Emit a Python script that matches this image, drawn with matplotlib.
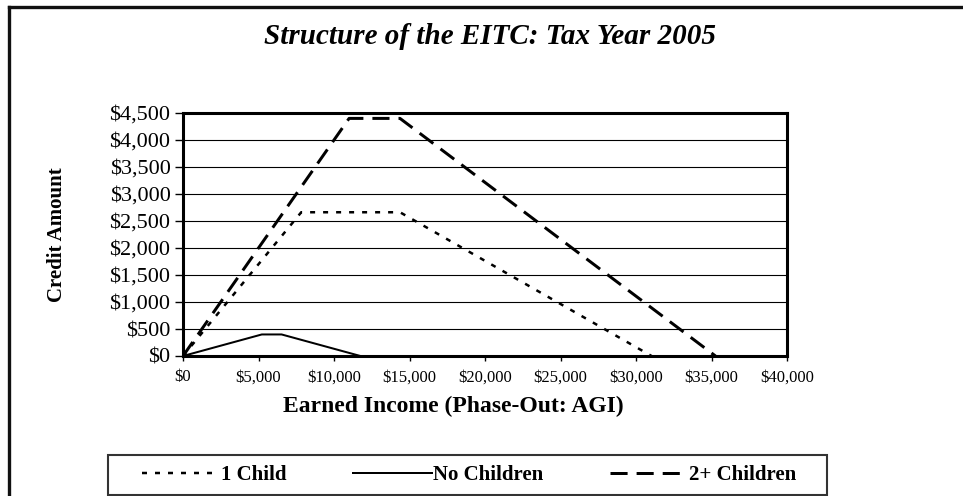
import matplotlib
matplotlib.use("Agg")
import matplotlib.pyplot as plt
from matplotlib.ticker import FuncFormatter, MultipleLocator
from matplotlib.patches import Rectangle
from matplotlib.lines import Line2D

plt.rcParams['font.family'] = ['Liberation Serif', 'DejaVu Serif']

# Data (EITC 2005 structure)
one_child_x = [0, 7830, 14370, 31030]
one_child_y = [0, 2662, 2662, 0]
no_child_x = [0, 5220, 6530, 11750]
no_child_y = [0, 399, 399, 0]
two_child_x = [0, 11000, 14370, 35263]
two_child_y = [0, 4400, 4400, 0]

W, H = 963, 496
fig = plt.figure(figsize=(W / 100, H / 100), dpi=100)

# outer frame (left and top edges visible)
fig.add_artist(Line2D([9 / W, 9 / W], [0, 1 - 6.5 / H], transform=fig.transFigure,
                      color='#111111', lw=2.4, solid_capstyle='projecting'))
fig.add_artist(Line2D([9 / W, 1.0], [1 - 6.5 / H, 1 - 6.5 / H], transform=fig.transFigure,
                      color='#111111', lw=2.4, solid_capstyle='projecting'))

ax = fig.add_axes([183 / W, 1 - 356 / H, (787 - 183) / W, (356 - 113) / H])

px = 0.72  # points per pixel
l1, = ax.plot(one_child_x, one_child_y, color='black', lw=2.5 * px, linestyle=(0, (2, 3.2)),
              label='1 Child')
l2, = ax.plot(no_child_x, no_child_y, color='black', lw=2 * px, linestyle='-', label='No Children')
l3, = ax.plot(two_child_x, two_child_y, color='black', lw=3 * px, linestyle=(0, (5.7, 3)),
              label='2+ Children')

ax.set_xlim(0, 40000)
ax.set_ylim(0, 4500)
ax.xaxis.set_major_locator(MultipleLocator(5000))
ax.yaxis.set_major_locator(MultipleLocator(500))
fmt = FuncFormatter(lambda v, p: '${:,.0f}'.format(v))
ax.xaxis.set_major_formatter(fmt)
ax.yaxis.set_major_formatter(fmt)
ax.grid(axis='y', color='black', linewidth=0.8)
ax.set_axisbelow(True)
for s in ax.spines.values():
    s.set_linewidth(2.2)
ax.tick_params(axis='y', labelsize=16, length=6, width=1, pad=3, direction='out')
ax.tick_params(axis='x', labelsize=12, length=3.6, width=1, pad=6, direction='out')

ax.set_xlabel('Earned Income (Phase-Out: AGI)', fontsize=17, fontweight='bold')
ax.xaxis.set_label_coords((453 - 183) / 604, (356 - 406) / 243)
ax.xaxis.label.set_va('center')
ax.set_ylabel('Credit Amount', fontsize=15, fontweight='bold')
ax.yaxis.set_label_coords((57 - 183) / 604, 0.5)
ax.yaxis.label.set_va('center')

fig.text(490 / W, 1 - 37 / H, 'Structure of the EITC: Tax Year 2005', ha='center', va='center',
         fontsize=21, fontweight='bold', fontstyle='italic')

# legend frame
fig.add_artist(Rectangle((108 / W, 1 - 495 / H), 719 / W, 40 / H, transform=fig.transFigure,
                         fill=False, edgecolor='#333333', linewidth=1.5))
leg = fig.legend(handles=[l1, l2, l3], loc='center', ncol=3,
                 bbox_to_anchor=(469 / W, 1 - 475 / H), frameon=False,
                 prop={'weight': 'bold', 'size': 15},
                 handlelength=3.75, columnspacing=3.2, borderpad=0.2, handletextpad=0.05)

fig.savefig('out.png', dpi=100)
